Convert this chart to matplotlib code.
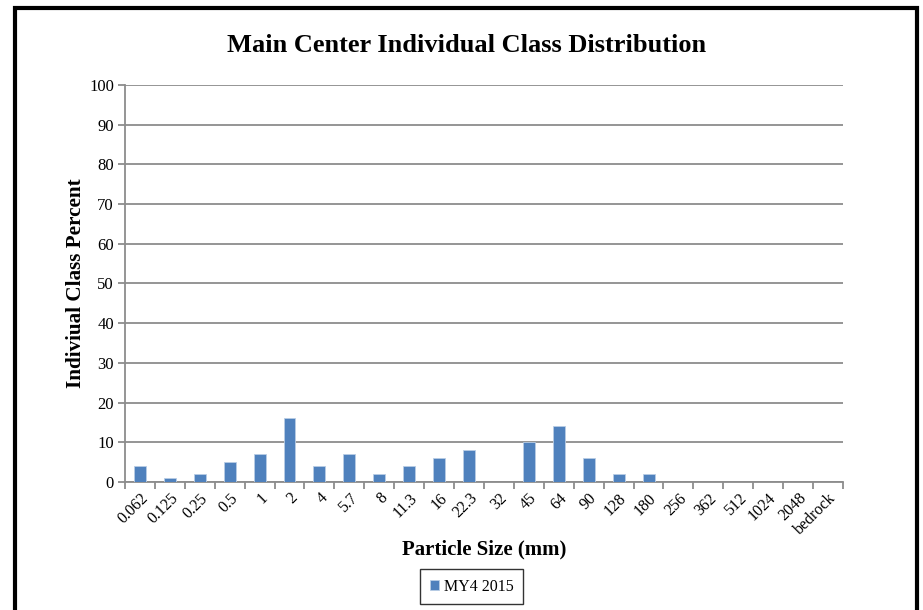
import matplotlib
matplotlib.use("Agg")
import matplotlib.pyplot as plt
from matplotlib.patches import Rectangle
import numpy as np

plt.rcParams['font.family'] = ['Liberation Serif', 'DejaVu Serif']

sizes = ['0.062', '0.125', '0.25', '0.5', '1', '2', '4', '5.7', '8', '11.3',
         '16', '22.3', '32', '45', '64', '90', '128', '180', '256', '362',
         '512', '1024', '2048', 'bedrock']
percent = [4, 1, 2, 5, 7, 16, 4, 7, 2, 4,
           6, 8, 0, 10, 14, 6, 2, 2, 0, 0,
           0, 0, 0, 0]
series_name = 'MY4 2015'

fig = plt.figure(figsize=(9.23, 6.10), dpi=100)
ax = fig.add_axes([0.1354, 0.2098, 0.7779, 0.6509])

x = np.arange(len(sizes))
ax.bar(x, percent, width=0.4, color='#4F81BD', edgecolor='#B9CDE5',
       linewidth=0.6, label=series_name, zorder=3)

ax.set_xlim(-0.5, len(sizes) - 0.5)
ax.set_ylim(0, 100)
ax.set_yticks(np.arange(0, 101, 10))
ax.yaxis.grid(True, color='#8C8C8C', linewidth=1.3, zorder=0)

# category boundary ticks on the x axis, labels centred under each bar
ax.set_xticks(np.arange(-0.5, len(sizes) + 0.5, 1))
ax.set_xticklabels([])
ax.set_xticks(x, minor=True)
ax.set_xticklabels(sizes, minor=True, rotation=45, ha='right',
                   rotation_mode='anchor', fontsize=11.5)
ax.tick_params(axis='x', which='minor', length=0, pad=6)
ax.tick_params(axis='x', which='major', length=5, color='#8C8C8C', width=1.3)
ax.tick_params(axis='y', length=5, color='#8C8C8C', width=1.3, labelsize=12, pad=3)

for side in ['top', 'right']:
    ax.spines[side].set_visible(False)
for side in ['left', 'bottom']:
    ax.spines[side].set_color('#8C8C8C')
    ax.spines[side].set_linewidth(1.3)

ax.set_ylabel('Indiviual Class Percent', fontsize=15.2, fontweight='bold', labelpad=2)
ax.set_xlabel('Particle Size (mm)', fontsize=15, fontweight='bold', labelpad=1)
fig.text(0.505, 0.925, 'Main Center Individual Class Distribution',
         ha='center', va='center', fontsize=19, fontweight='bold')

leg = fig.legend(loc='center', bbox_to_anchor=(0.511, 0.963 - 0.925),
                 fontsize=11.5, frameon=True, fancybox=False, handlelength=0.6,
                 handleheight=0.6, handletextpad=0.3, borderpad=0.6)
leg.get_frame().set_edgecolor('black')
leg.get_frame().set_linewidth(1.0)

# outer chart frame
fig.patches.append(Rectangle((15.5 / 923, -0.05), 901.5 / 923, 1 - 8 / 610 + 0.05,
                             transform=fig.transFigure, fill=False,
                             edgecolor='black', linewidth=3))

fig.savefig('out.png', dpi=100)
